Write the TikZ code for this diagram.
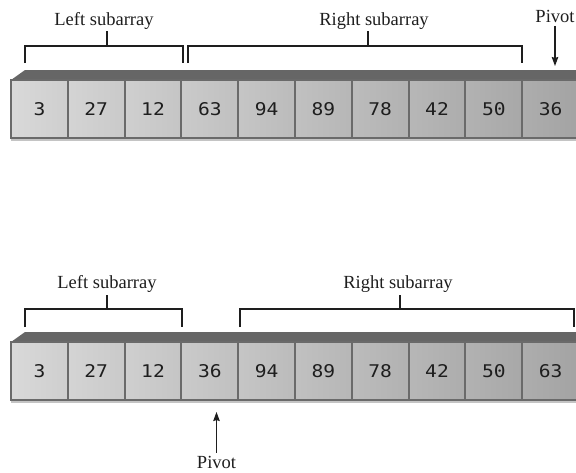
\documentclass[tikz,border=0pt]{standalone}
\usepackage{fontspec}
\setmainfont{Liberation Serif}
\newfontfamily\cellfont[FakeStretch=1.12]{DejaVu Sans Mono}
\usetikzlibrary{arrows.meta}
\definecolor{barcol}{HTML}{666666}
\definecolor{edgecol}{HTML}{6A6A6A}
\definecolor{inkcol}{HTML}{1E1E1E}
\definecolor{shadowcol}{HTML}{C4C4C4}
\begin{document}
\begin{tikzpicture}[x=1pt,y=-1pt,
  cell/.style={draw=edgecol, line width=2pt, minimum width=56.8pt, minimum height=58pt,
    inner sep=0pt, font=\cellfont\fontsize{17.5}{17.5}\selectfont, text=inkcol},
  lbl/.style={font=\fontsize{18.5}{20}\selectfont, text=inkcol, inner sep=0.3em},
  bracket/.style={draw=inkcol, line width=2pt},
  arr/.style={draw=inkcol, line width=1.2pt, -{Stealth[length=9pt,width=6.5pt,inset=1pt]}}]
\useasboundingbox (0,0) rectangle (576,472);
\clip (0,0) rectangle (576,472);
% ---------- top array ----------
\fill[barcol] (11,80) -- (25,70) -- (590,70) -- (590,80) -- cycle;
\draw[shadowcol, line width=1.2pt] (11,140) -- (590,140);
\foreach \v [count=\i from 0] in {3,27,12,63,94,89,78,42,50,36} {
  \pgfmathsetmacro\lc{15+1.9*\i}
  \pgfmathsetmacro\rc{19+1.9*\i}
  \node[cell, left color=black!\lc, right color=black!\rc] (a\i) at ({11+56.8*(\i+0.5)},109) {\v};
}
% brackets top
\draw[bracket] (25,63) -- (25,45.5) -- (183,45.5) -- (183,63);
\draw[bracket] (106.7,45.5) -- (106.7,31);
\draw[bracket] (188,63) -- (188,45.5) -- (522,45.5) -- (522,63);
\draw[bracket] (368,45.5) -- (368,31);
\node[lbl, anchor=base] (lt) at (104,25) {Left subarray};
\node[lbl, anchor=base] (rt) at (374,25) {Right subarray};
\node[lbl, anchor=base] (pt) at (555,22.5) {Pivot};
\coordinate (ptip) at (555,66);
\draw[arr] (pt.south) -- (ptip);
% ---------- bottom array ----------
\fill[barcol] (11,342) -- (25,332) -- (590,332) -- (590,342) -- cycle;
\draw[shadowcol, line width=1.2pt] (11,402) -- (590,402);
\foreach \v [count=\i from 0] in {3,27,12,36,94,89,78,42,50,63} {
  \pgfmathsetmacro\lc{15+1.9*\i}
  \pgfmathsetmacro\rc{19+1.9*\i}
  \node[cell, left color=black!\lc, right color=black!\rc] (b\i) at ({11+56.8*(\i+0.5)},371) {\v};
}
\draw[bracket] (25,327) -- (25,309) -- (182,309) -- (182,327);
\draw[bracket] (106.7,309) -- (106.7,295);
\draw[bracket] (240,327) -- (240,309) -- (574,309) -- (574,327);
\draw[bracket] (400,309) -- (400,295);
\node[lbl, anchor=base] (lb) at (107,288) {Left subarray};
\node[lbl, anchor=base] (rb) at (398,288) {Right subarray};
\node[lbl, anchor=base] (pb) at (216.5,468) {Pivot};
\coordinate (pbtip) at (216.5,412);
\draw[arr] (pb.north) -- (pbtip);
\end{tikzpicture}
\end{document}
